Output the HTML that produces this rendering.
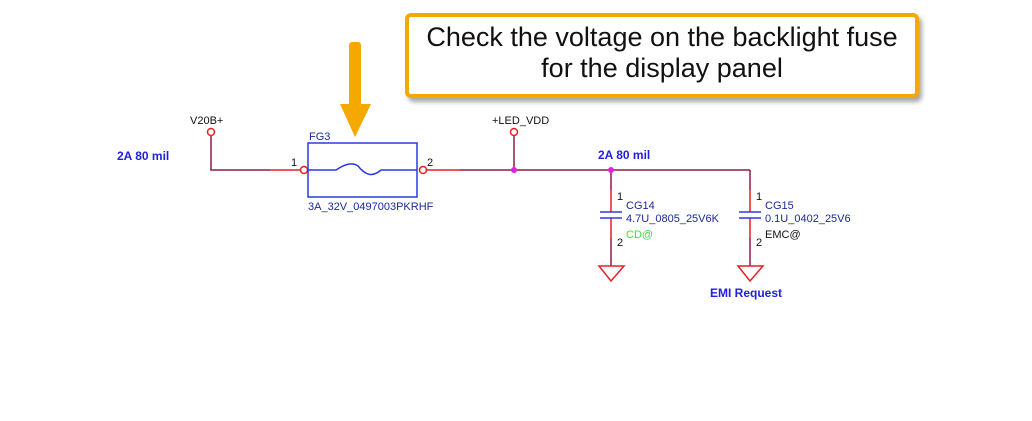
<!DOCTYPE html>
<html><head><style>
body{margin:0;background:#fff;}
.box{position:absolute;left:405px;top:13px;width:506px;height:72px;border:4px solid #f4a800;border-radius:6px;background:#fff;box-shadow:3px 4px 5px rgba(0,0,0,0.35);font:27px "Liberation Sans",sans-serif;text-align:center;line-height:31px;padding-top:5px;box-sizing:content-box;color:#111}
</style></head><body>
<div style="position:relative;width:1032px;height:421px;overflow:hidden">
<svg width="1032" height="421" style="position:absolute;left:0;top:0" font-family="Liberation Sans, sans-serif">
<rect x="349" y="42" width="12" height="66" fill="#f4a800" rx="3"/>
<polygon points="340,104 371,104 355,137" fill="#f4a800"/>
<g stroke="#8b1a4a" stroke-width="1.5" fill="none">
<polyline points="211,136 211,170 270,170"/>
<line x1="460" y1="170" x2="750" y2="170"/>
<line x1="750" y1="170" x2="750" y2="190"/>
<line x1="514" y1="136" x2="514" y2="170"/>
<line x1="611" y1="170" x2="611" y2="190"/>
<line x1="611" y1="238" x2="611" y2="266"/>
<line x1="750" y1="238" x2="750" y2="266"/>
</g>
<g stroke="#e52020" stroke-width="1.5" fill="none">
<line x1="270" y1="170" x2="300" y2="170"/>
<line x1="427" y1="170" x2="460" y2="170"/>
<line x1="611" y1="190" x2="611" y2="212"/>
<line x1="611" y1="218" x2="611" y2="238"/>
<line x1="750" y1="190" x2="750" y2="212"/>
<line x1="750" y1="218" x2="750" y2="238"/>
<circle cx="211" cy="132" r="3.5"/>
<circle cx="514" cy="132" r="3.5"/>
<circle cx="304" cy="170" r="3.5"/>
<circle cx="423" cy="170" r="3.5"/>
<polygon points="599,266 624,266 611,281"/>
<polygon points="738,266 763,266 750,281"/>
</g>
<circle cx="514" cy="170" r="3" fill="#e020e0"/>
<circle cx="611" cy="170" r="3" fill="#e020e0"/>
<g stroke="#2a3ae0" stroke-width="1.5" fill="none">
<rect x="308" y="143" width="109" height="54"/>
<path d="M308,170 H336 C345,164 352,162 358,166 C366,176 373,177 381,170 H417"/>
<line x1="600" y1="212" x2="622" y2="212"/><line x1="600" y1="218" x2="622" y2="218"/>
<line x1="739" y1="212" x2="761" y2="212"/><line x1="739" y1="218" x2="761" y2="218"/>
</g>
<g font-size="11" fill="#111">
<text x="190" y="124">V20B+</text>
<text x="492" y="124">+LED_VDD</text>
<text x="291" y="166">1</text>
<text x="427" y="166">2</text>
<text x="617" y="200">1</text><text x="617" y="246">2</text>
<text x="756" y="200">1</text><text x="756" y="246">2</text>
</g>
<g font-size="11" fill="#1a2a9a">
<text x="309" y="140">FG3</text>
<text x="308" y="210">3A_32V_0497003PKRHF</text>
<text x="626" y="209">CG14</text>
<text x="626" y="222">4.7U_0805_25V6K</text>
<text x="765" y="209">CG15</text>
<text x="765" y="222">0.1U_0402_25V6</text>
<text x="765" y="238" fill="#111">EMC@</text>
</g>
<text x="626" y="238" font-size="11" fill="#40e040">CD@</text>
<g font-size="12" font-weight="bold" fill="#2020e0">
<text x="117" y="160">2A 80 mil</text>
<text x="598" y="159">2A 80 mil</text>
<text x="710" y="297">EMI Request</text>
</g>
</svg>
<div class="box">Check the voltage on the backlight fuse<br>for the display panel</div>
</div>
</body></html>
